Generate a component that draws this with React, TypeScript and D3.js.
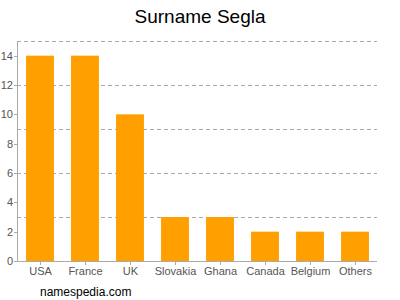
import React from "react";
import * as d3 from "d3";

const categories = ["USA", "France", "UK", "Slovakia", "Ghana", "Canada", "Belgium", "Others"];
const values = [14, 14, 10, 3, 3, 2, 2, 2];
const yTicks = [0, 2, 4, 6, 8, 10, 12, 14];
const gridValues = [3, 6, 9, 12, 15];

export default function App() {
  const W = 400, H = 300;
  const x = d3.scaleBand<string>().domain(categories).range([17.5, 377.5]).paddingInner(0.38).paddingOuter(0.19);
  const y = d3.scaleLinear().domain([0, 15]).range([261, 41]);
  const font = "Arial, 'Liberation Sans', sans-serif";
  return (
    <svg width={W} height={H} style={{ position: "absolute", left: 0, top: 0 }} fontFamily={font}>
      <rect width={W} height={H} fill="#fff" />
      <text x={200} y={23} textAnchor="middle" fontSize={19} fill="#000">Surname Segla</text>
      {gridValues.map((g) => (
        <line key={g} x1={17} x2={377} y1={Math.round(y(g)) + 0.5} y2={Math.round(y(g)) + 0.5} stroke="#aaa" strokeDasharray="4,3" strokeWidth={1} />
      ))}
      {categories.map((c, i) => (
        <rect key={c} x={x(c)} y={y(values[i])} width={x.bandwidth()} height={y(0) - y(values[i])} fill="#FFA000" />
      ))}
      <line x1={17.5} x2={17.5} y1={41} y2={261} stroke="#aaa" />
      <line x1={17} x2={377} y1={261.5} y2={261.5} stroke="#aaa" />
      {yTicks.map((t) => (
        <g key={t}>
          <line x1={14} x2={17} y1={Math.round(y(t)) + 0.5} y2={Math.round(y(t)) + 0.5} stroke="#aaa" />
          <text x={13} y={y(t) + 4} textAnchor="end" fontSize={11} fill="#555">{t}</text>
        </g>
      ))}
      {categories.map((c) => {
        const cx = Math.round((x(c) as number) + x.bandwidth() / 2) + 0.5;
        return (
          <g key={c}>
            <line x1={cx} x2={cx} y1={261} y2={265} stroke="#aaa" />
            <text x={cx} y={275} textAnchor="middle" fontSize={11} fill="#555">{c}</text>
          </g>
        );
      })}
      <text x={40} y={296} fontSize={12} fill="#000">namespedia.com</text>
    </svg>
  );
}
